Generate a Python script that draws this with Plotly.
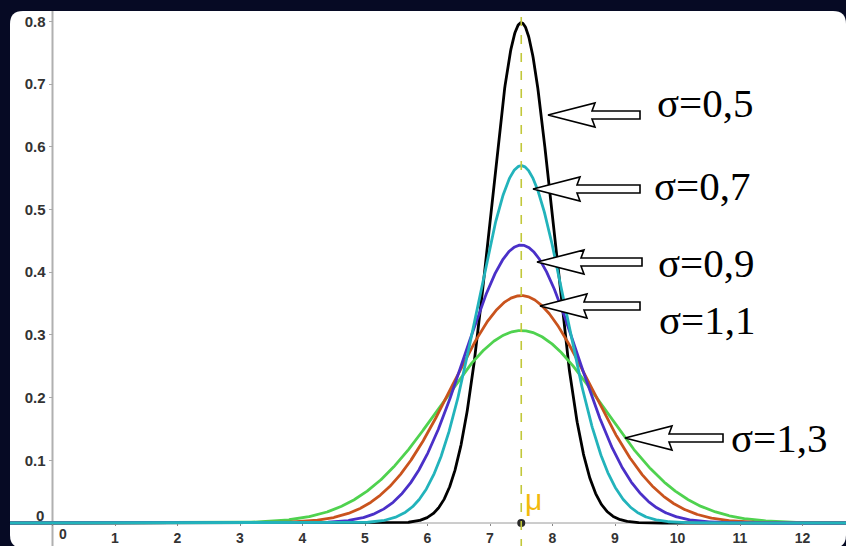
import numpy as np
import plotly.graph_objects as go

# ---- data ----
mu = 7.5
sigmas = [0.5, 0.7, 0.9, 1.1, 1.3]
sigma_labels = ["σ=0,5", "σ=0,7", "σ=0,9", "σ=1,1", "σ=1,3"]
curve_colors = ["#000000", "#22b3bb", "#4a30c8", "#c9531d", "#4fd24f"]
x_ticks = list(range(0, 13))
y_ticks = [0.1, 0.2, 0.3, 0.4, 0.5, 0.6, 0.7, 0.8]

# ---- pixel <-> data helpers (layout only) ----
W, H = 846, 546
X0_PX, UX = 52.5, 62.5      # pixel of x=0, pixels per x unit
Y0_PX, UY = 523.0, 627.0    # pixel of y=0, pixels per y unit


def px2x(p):
    return (p - X0_PX) / UX


def py2y(p):
    return (Y0_PX - p) / UY


x_lo, x_hi = px2x(10), px2x(848)
xs = np.linspace(x_lo, x_hi, 2000)

fig = go.Figure()

# draw order: black, green, orange, blue, cyan on top
order = [0, 4, 3, 2, 1]
for i in order:
    s = sigmas[i]
    ys = np.exp(-0.5 * ((xs - mu) / s) ** 2) / (s * np.sqrt(2 * np.pi))
    fig.add_trace(go.Scatter(x=xs, y=ys, mode="lines",
                             line=dict(color=curve_colors[i], width=2.8),
                             hoverinfo="skip", showlegend=False))

# mean point
fig.add_trace(go.Scatter(x=[mu], y=[0], mode="markers",
                         marker=dict(color="#2a2a2a", size=8),
                         hoverinfo="skip", showlegend=False))

shapes = []
# white rounded panel
bx0, bx1 = px2x(10), px2x(846)
by1, by0 = py2y(11), py2y(548)
rx, ry = 13 / UX, 13 / UY
path = (f"M {bx0+rx},{by1} L {bx1-rx},{by1} Q {bx1},{by1} {bx1},{by1-ry} "
        f"L {bx1},{by0+ry} Q {bx1},{by0} {bx1-rx},{by0} "
        f"L {bx0+rx},{by0} Q {bx0},{by0} {bx0},{by0+ry} "
        f"L {bx0},{by1-ry} Q {bx0},{by1} {bx0+rx},{by1} Z")
shapes.append(dict(type="path", path=path, xref="x", yref="y", layer="below",
                   fillcolor="white", line=dict(width=0)))
# y axis line
shapes.append(dict(type="line", xref="x", yref="y", x0=0, x1=0,
                   y0=py2y(548), y1=py2y(11), layer="below",
                   line=dict(color="#b0b0b0", width=2)))
# x axis line (under the curves)
shapes.append(dict(type="line", xref="x", yref="y", x0=bx0, x1=bx1,
                   y0=0, y1=0, layer="below",
                   line=dict(color="#9a9a9a", width=1)))
# mu dashed line
shapes.append(dict(type="line", xref="x", yref="y", x0=mu, x1=mu,
                   y0=py2y(548), y1=py2y(11), layer="above",
                   line=dict(color="#c2c83a", width=1.6, dash="dash")))

# hollow block arrows (pixel geometry: tip x, tip y, tail x)
arrow_geom = [(548, 115, 640), (533, 189, 640), (537, 262, 642),
              (540, 306, 640), (625, 438, 723)]
label_pos = [(705, 103), (702, 186), (706, 263), (707, 320), (779, 438)]
HL, HH, SH = 47, 12, 4
for (tx, ty, tail) in arrow_geom:
    pts = [(tx, ty), (tx + HL, ty - HH), (tx + HL - 3, ty - SH), (tail, ty - SH),
           (tail, ty + SH), (tx + HL - 3, ty + SH), (tx + HL, ty + HH)]
    p = "M " + " L ".join(f"{px2x(a)},{py2y(b)}" for a, b in pts) + " Z"
    shapes.append(dict(type="path", path=p, xref="x", yref="y", layer="above",
                       fillcolor="white", line=dict(color="black", width=1.6)))

annotations = []
for lab, (lx, ly) in zip(sigma_labels, label_pos):
    annotations.append(dict(x=px2x(lx), y=py2y(ly), xref="x", yref="y",
                            text=lab, showarrow=False, xanchor="center",
                            yanchor="middle",
                            font=dict(family="Liberation Serif, Times New Roman, serif",
                                      size=41, color="black")))
# mu label
annotations.append(dict(x=px2x(533), y=py2y(499), xref="x", yref="y", text="μ",
                        showarrow=False, xanchor="center", yanchor="middle",
                        font=dict(family="Liberation Sans, Arial, sans-serif",
                                  size=30, color="#f2b90c")))
# origin labels
tick_font = dict(family="Liberation Sans, Arial, sans-serif", size=15,
                 color="#333333", weight="bold")
xtick_font = dict(family="Liberation Sans, Arial, sans-serif", size=14,
                  color="#333333", weight="bold")
annotations.append(dict(x=px2x(40), y=py2y(515), xref="x", yref="y", text="0",
                        showarrow=False, xanchor="center", yanchor="middle",
                        font=tick_font))
annotations.append(dict(x=px2x(63), y=py2y(534), xref="x", yref="y", text="0",
                        showarrow=False, xanchor="center", yanchor="middle",
                        font=xtick_font))

fig.update_layout(
    width=W, height=H,
    margin=dict(l=0, r=0, t=0, b=0, pad=0),
    paper_bgcolor="#060a24", plot_bgcolor="#060a24",
    shapes=shapes, annotations=annotations,
    xaxis=dict(range=[px2x(0), px2x(W)], anchor="free", position=(H - Y0_PX) / H,
               tickvals=x_ticks, ticktext=["" if v == 0 else str(v) for v in x_ticks],
               ticks="outside", ticklen=2, tickcolor="#888888",
               showgrid=False, zeroline=False, showline=False,
               tickfont=xtick_font, automargin=False, fixedrange=True),
    yaxis=dict(range=[py2y(H), py2y(0)], anchor="free", position=X0_PX / W,
               tickvals=y_ticks, ticktext=[f"{v:.1f}" for v in y_ticks],
               ticks="outside", ticklen=4, tickcolor="#aaaaaa",
               showgrid=False, zeroline=False, showline=False,
               tickfont=tick_font, automargin=False, fixedrange=True),
)

fig.write_html("out.html", config={"displayModeBar": False},
               post_script="document.body.style.margin='0';"
                           "document.body.style.overflow='hidden';"
                           "document.body.style.background='#060a24';")
